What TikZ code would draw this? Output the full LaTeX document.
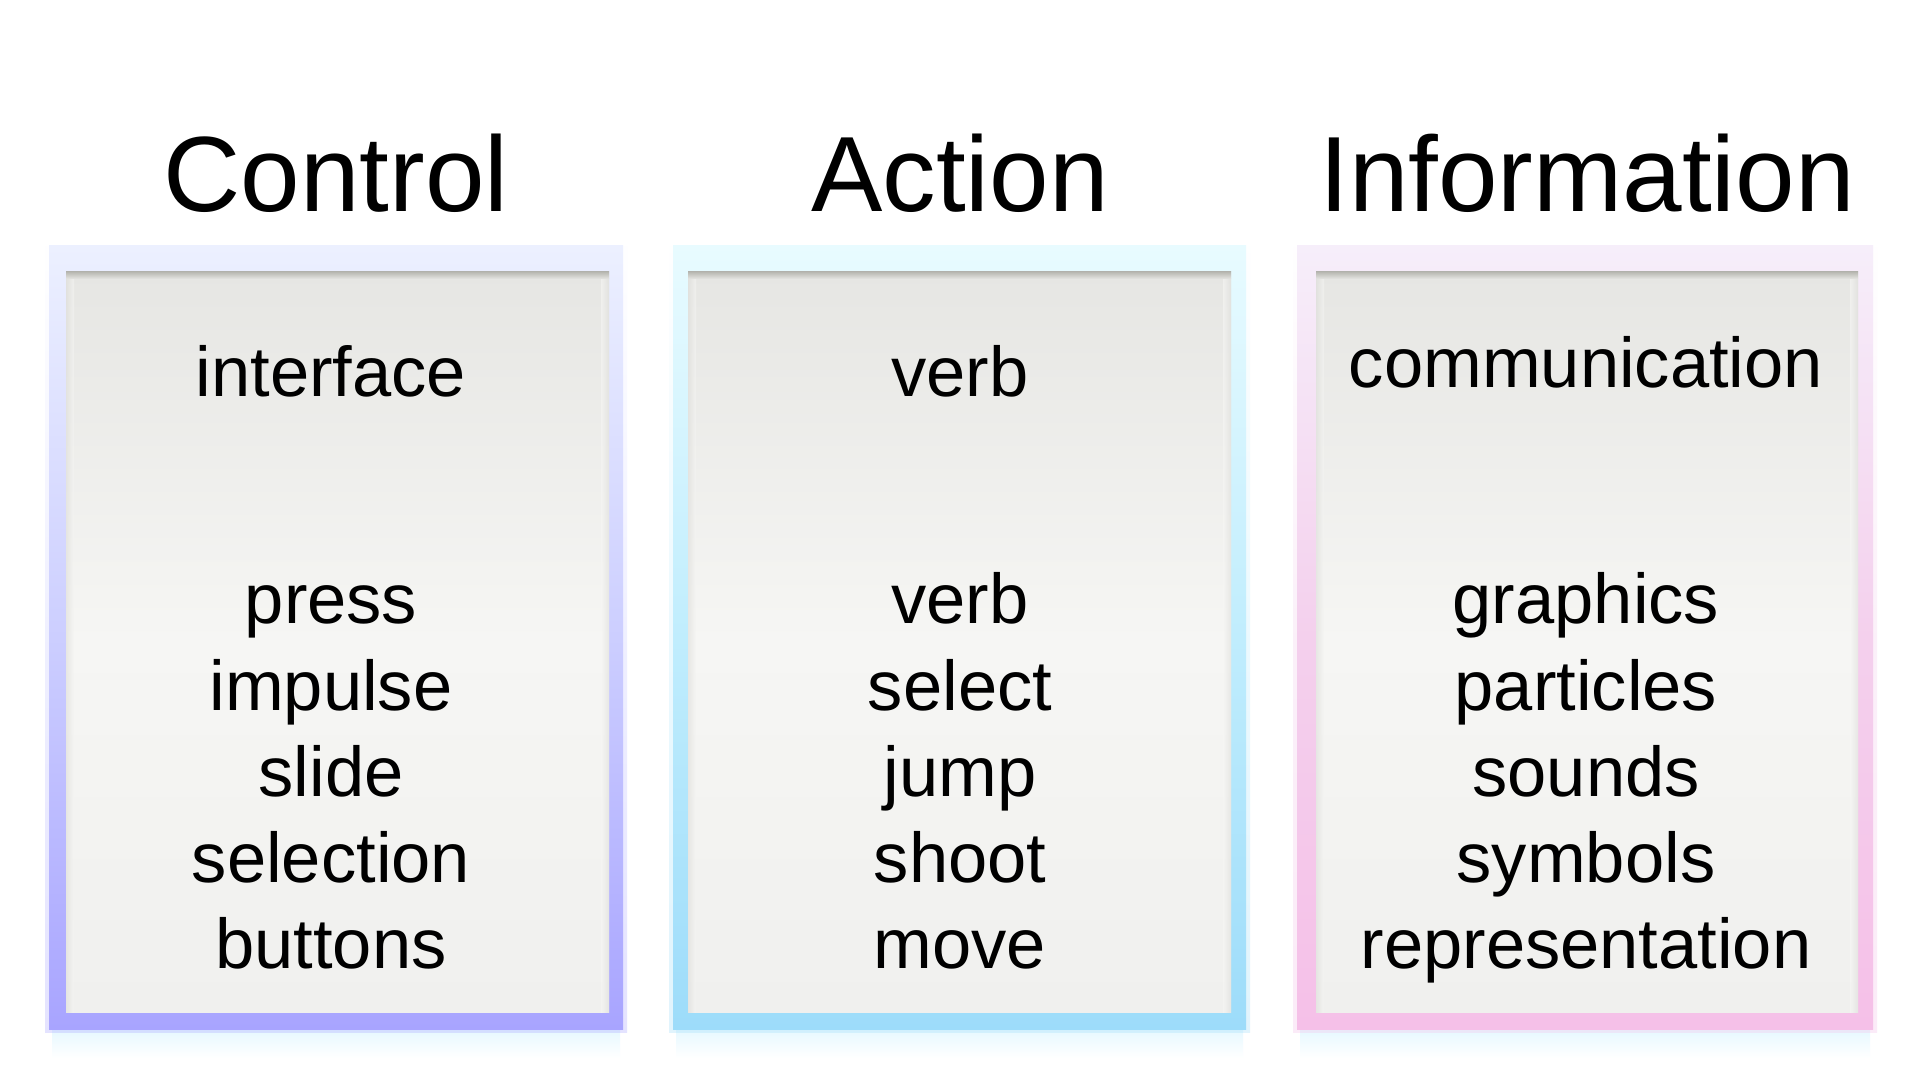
\documentclass[tikz,border=0pt]{standalone}
\usepackage{fontspec}
\setmainfont{Liberation Sans}

\definecolor{ctlGlowTop}{RGB}{236,240,255}
\definecolor{ctlGlowMid}{RGB}{204,206,255}
\definecolor{ctlGlowBot}{RGB}{168,164,255}
\definecolor{actGlowTop}{RGB}{232,251,255}
\definecolor{actGlowMid}{RGB}{192,237,253}
\definecolor{actGlowBot}{RGB}{157,220,250}
\definecolor{infGlowTop}{RGB}{246,238,250}
\definecolor{infGlowMid}{RGB}{244,208,237}
\definecolor{infGlowBot}{RGB}{245,192,232}
\definecolor{cardTop}{RGB}{230,230,227}
\definecolor{cardMid}{RGB}{246,246,244}
\definecolor{cardBot}{RGB}{240,240,238}
\definecolor{cardEdge}{RGB}{184,184,178}
\definecolor{cardSide}{RGB}{222,222,219}
\definecolor{mirror}{RGB}{230,248,255}

\tikzset{every picture/.style={line width=0.75pt}}
\tikzset{
  heading/.style={anchor=base, font=\fontsize{53.5}{64}\selectfont},
  word/.style={anchor=base, font=\fontsize{35.25}{43}\selectfont},
  card/.style={top color=cardTop, bottom color=cardBot, middle color=cardMid},
}

\begin{document}
\begin{tikzpicture}[x=0.5pt,y=0.5pt,yscale=-1,xscale=1]
\useasboundingbox [fill=white] (0,0) rectangle (1920,1080);

%Shape: Reflection [Control]
\path [top color=mirror, bottom color=white] (52,1029) rectangle (620,1058) ;
%Shape: Reflection [Action]
\path [top color=mirror, bottom color=white] (676,1029) rectangle (1243,1058) ;
%Shape: Reflection [Information]
\path [top color=mirror, bottom color=white] (1300,1029) rectangle (1870,1058) ;

%Shape: Glow halo [Control]
\path [top color=white, bottom color=ctlGlowBot, middle color=ctlGlowMid, opacity=0.3] (45,242) rectangle (627,1032) ;
%Shape: Glow [Control]
\path [top color=ctlGlowTop, bottom color=ctlGlowBot, middle color=ctlGlowMid] (49,246) rectangle (623,1029) ;
%Shape: Glow halo [Action]
\path [top color=white, bottom color=actGlowBot, middle color=actGlowMid, opacity=0.3] (669,242) rectangle (1250,1032) ;
%Shape: Glow [Action]
\path [top color=actGlowTop, bottom color=actGlowBot, middle color=actGlowMid] (673,246) rectangle (1246,1029) ;
%Shape: Glow halo [Information]
\path [top color=white, bottom color=infGlowBot, middle color=infGlowMid, opacity=0.3] (1293,242) rectangle (1877,1032) ;
%Shape: Glow [Information]
\path [top color=infGlowTop, bottom color=infGlowBot, middle color=infGlowMid] (1297,246) rectangle (1873,1029) ;

%Shape: Card [Control]
\path [card] (66,272) rectangle (609,1012) ;
\path [left color=cardSide, right color=cardMid, opacity=0.6] (66,279) rectangle (74,1012) ;
\path [left color=cardMid, right color=cardSide, opacity=0.6] (601,279) rectangle (609,1012) ;
\path [top color=cardEdge, bottom color=cardTop] (66,272) rectangle (609,279) ;
%Shape: Card [Action]
\path [card] (688,272) rectangle (1231,1012) ;
\path [left color=cardSide, right color=cardMid, opacity=0.6] (688,279) rectangle (696,1012) ;
\path [left color=cardMid, right color=cardSide, opacity=0.6] (1223,279) rectangle (1231,1012) ;
\path [top color=cardEdge, bottom color=cardTop] (688,272) rectangle (1231,279) ;
%Shape: Card [Information]
\path [card] (1316,272) rectangle (1858,1012) ;
\path [left color=cardSide, right color=cardMid, opacity=0.6] (1316,279) rectangle (1324,1012) ;
\path [left color=cardMid, right color=cardSide, opacity=0.6] (1850,279) rectangle (1858,1012) ;
\path [top color=cardEdge, bottom color=cardTop] (1316,272) rectangle (1858,279) ;

% Text Node
\node [heading] (ctlHead) at (336,212) {Control};
% Text Node
\node [heading] (actHead) at (960,212) {Action};
% Text Node
\node [heading] (infHead) at (1587,212) {Information};

% Text Node
\node [word] (ctlTop) at (331,396) {interface};
\node [word] (ctlA) at (331,623) {press};
\node [word] (ctlB) at (331,710) {impulse};
\node [word] (ctlC) at (331,796) {slide};
\node [word] (ctlD) at (331,882) {selection};
\node [word] (ctlE) at (331,968) {buttons};
% Text Node
\node [word] (actTop) at (960,396) {verb};
\node [word] (actA) at (960,623) {verb};
\node [word] (actB) at (960,710) {select};
\node [word] (actC) at (960,796) {jump};
\node [word] (actD) at (960,882) {shoot};
\node [word] (actE) at (960,968) {move};
% Text Node
\node [word] (infTop) at (1586,387) {communication};
\node [word] (infA) at (1586,623) {graphics};
\node [word] (infB) at (1586,710) {particles};
\node [word] (infC) at (1586,796) {sounds};
\node [word] (infD) at (1586,882) {symbols};
\node [word] (infE) at (1586,968) {representation};

\end{tikzpicture}
\end{document}
